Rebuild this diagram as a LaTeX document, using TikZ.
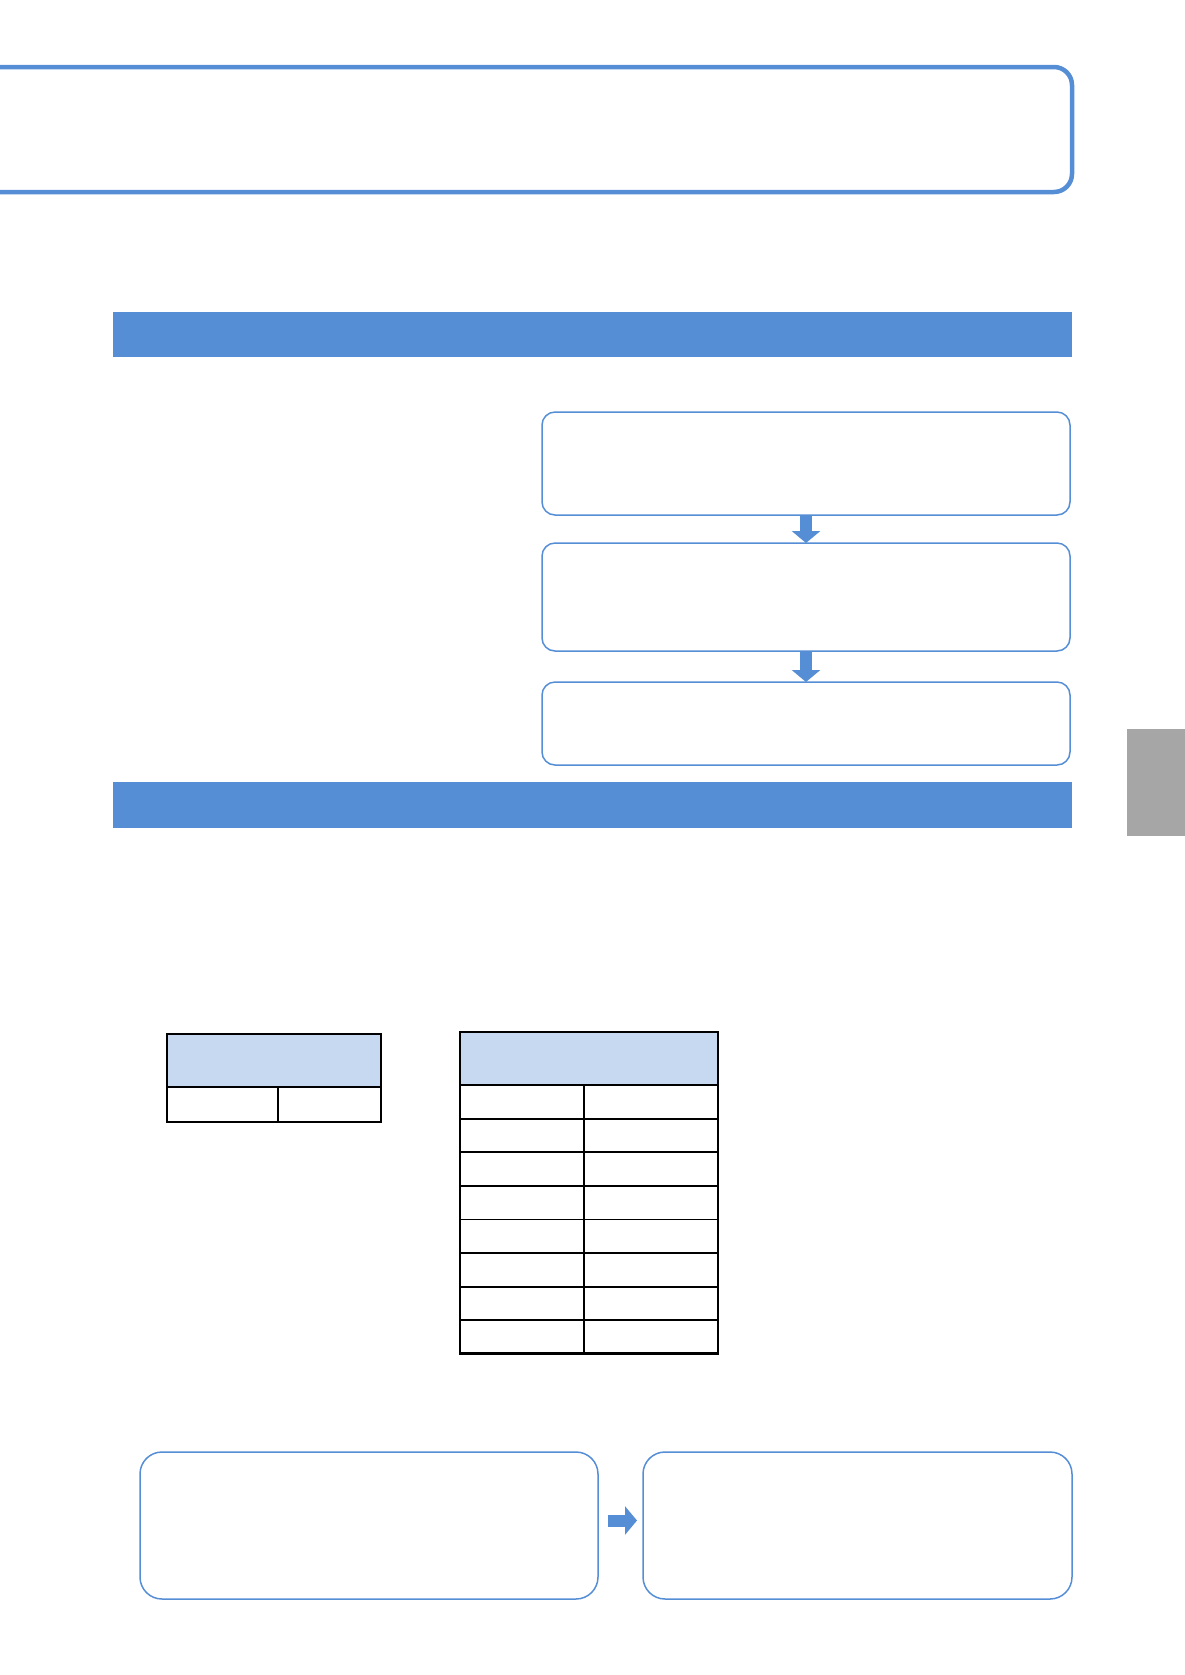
\documentclass[tikz,border=0pt]{standalone}
\usetikzlibrary{arrows.meta}
\definecolor{bandblue}{HTML}{558ED5}
\definecolor{headblue}{HTML}{C6D9F1}
\definecolor{tabgray}{HTML}{A6A6A6}
\tikzset{
  banner/.style={
    draw=bandblue,
    line width=0.45mm,
    rounded corners=1.8mm,
    minimum width=111.2mm,
    minimum height=12.5mm,
    inner sep=0pt,
    outer sep=0pt
  },
  band/.style={
    fill=bandblue,
    minimum width=95.9mm,
    inner sep=0pt,
    outer sep=0pt
  },
  stepbox/.style={
    draw=bandblue,
    fill=white,
    line width=0.15mm,
    rounded corners=1.3mm,
    minimum width=52.8mm,
    inner sep=0pt,
    outer sep=0pt
  },
  notebox/.style={
    draw=bandblue,
    line width=0.15mm,
    rounded corners=2.2mm,
    minimum height=14.7mm,
    inner sep=0pt,
    outer sep=0pt
  },
  flow/.style={draw=bandblue, line width=1.2mm, -{Triangle[width=2.8mm, length=1.2mm]}},
  cell/.style={draw=black, line width=0.18mm, inner sep=0pt, outer sep=0pt},
  headcell/.style={cell, fill=headblue},
  frame/.style={draw=black, line width=0.27mm}
}

\begin{document}
\begin{tikzpicture}[x=0.1mm, y=-0.1mm]
  \useasboundingbox (0,0) rectangle (1185,1675);
  \clip (0,0) rectangle (1185,1675);

  % title frame, open on the left
  \node[banner] (banner) at (516,129.5) {};

  % section bands
  \node[band, minimum height=4.5mm] (band1) at (592.5,334.5) {};
  \node[band, minimum height=4.6mm] (band2) at (592.5,805) {};

  % side tab
  \node[fill=tabgray, minimum width=5.8mm, minimum height=10.7mm, inner sep=0pt] (tab) at (1156,782.5) {};

  % three steps
  \node[stepbox, minimum height=10.3mm] (step1) at (806,463.5) {};
  \node[stepbox, minimum height=10.8mm] (step2) at (806,597) {};
  \node[stepbox, minimum height=8.3mm] (step3) at (806,723.5) {};
  \draw[flow] (step1.south) -- (step2.north);
  \draw[flow] (step2.south) -- (step3.north);

  % small table
  \node[headcell, minimum width=21.4mm, minimum height=5.3mm] (t1head) at (274,1060.5) {};
  \node[cell, minimum width=11.1mm, minimum height=3.5mm] (t1a) at (222.5,1104.5) {};
  \node[cell, minimum width=10.3mm, minimum height=3.5mm] (t1b) at (329.5,1104.5) {};
  \draw[frame] (t1head.north west) rectangle (t1b.south east);

  % long table
  \node[headcell, minimum width=25.8mm, minimum height=5.3mm] (t2head) at (589,1058.5) {};
  \foreach \i in {1,...,8} {
    \pgfmathsetmacro{\yc}{1085 + 33.6*(\i-0.5)}
    \node[cell, minimum width=12.4mm, minimum height=3.36mm] (t2a\i) at (522,\yc) {};
    \node[cell, minimum width=13.4mm, minimum height=3.36mm] (t2b\i) at (651,\yc) {};
  }
  \draw[frame] (t2head.north west) rectangle (t2b8.south east);

  % bottom pair
  \node[notebox, minimum width=45.8mm] (note1) at (369,1525.5) {};
  \node[notebox, minimum width=42.9mm] (note2) at (857.5,1525.5) {};
  \draw[flow, shorten <=1mm, shorten >=0.6mm] ([yshift=0.5mm]note1.east) -- ([yshift=0.5mm]note2.west);
\end{tikzpicture}
\end{document}
